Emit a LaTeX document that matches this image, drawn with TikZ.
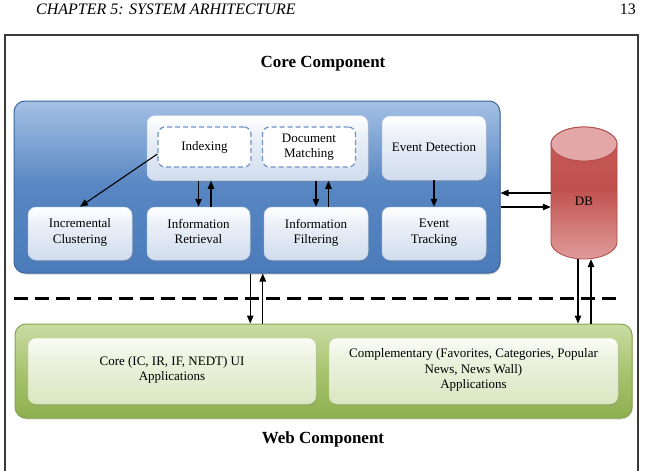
\documentclass[tikz,border=0pt]{standalone}
\usepackage{fontspec}
\setmainfont{Liberation Serif}
\usetikzlibrary{arrows.meta,shadows,calc}
\definecolor{bTop}{HTML}{A4C0E4}
\definecolor{bMid}{HTML}{5786C2}
\definecolor{bBot}{HTML}{4B7BBA}
\definecolor{bLine}{HTML}{3C679F}
\definecolor{wTop}{HTML}{FFFFFF}
\definecolor{wBot}{HTML}{D0DCED}
\definecolor{wLine}{HTML}{C3D3E8}
\definecolor{dashCol}{HTML}{6F93C6}
\definecolor{gTop}{HTML}{C9DCA5}
\definecolor{gMid}{HTML}{A8C46E}
\definecolor{gBot}{HTML}{8EAF4F}
\definecolor{gLine}{HTML}{85A648}
\definecolor{lgTop}{HTML}{FCFDF8}
\definecolor{lgBot}{HTML}{DAE6C2}
\definecolor{lgLine}{HTML}{C9D9AA}
\definecolor{rTop}{HTML}{C65C59}
\definecolor{rMid}{HTML}{C0504D}
\definecolor{rBot}{HTML}{DF9C9A}
\definecolor{rCap}{HTML}{E2A7A6}
\definecolor{rLine}{HTML}{B04744}
\definecolor{frameCol}{HTML}{3A3A3A}
\pgfdeclareverticalshading{blueshade}{100bp}{color(0bp)=(bBot); color(25bp)=(bBot); color(50bp)=(bMid); color(75bp)=(bTop); color(100bp)=(bTop)}
\pgfdeclareverticalshading{whiteshade}{100bp}{color(0bp)=(wBot); color(25bp)=(wBot); color(60bp)=(wTop!60!wBot); color(75bp)=(wTop); color(100bp)=(wTop)}
\pgfdeclareverticalshading{greenshade}{100bp}{color(0bp)=(gBot); color(25bp)=(gBot); color(50bp)=(gMid); color(75bp)=(gTop); color(100bp)=(gTop)}
\pgfdeclareverticalshading{lgreenshade}{100bp}{color(0bp)=(lgBot); color(25bp)=(lgBot); color(60bp)=(lgTop!55!lgBot); color(75bp)=(lgTop); color(100bp)=(lgTop)}
\pgfdeclareverticalshading{redshade}{100bp}{color(0bp)=(rBot); color(25bp)=(rBot); color(52bp)=(rMid); color(75bp)=(rTop); color(100bp)=(rTop)}
\begin{document}
\begin{tikzpicture}[x=1pt,y=-1pt,
  txt/.style={font=\fontsize{13}{15.5}\selectfont, align=center},
  title/.style={font=\bfseries\fontsize{17}{20}\selectfont},
  outerblue/.style={rounded corners=11pt, shading=blueshade, draw=bLine, line width=1pt, inner sep=0pt,
    drop shadow={shadow xshift=0.8pt, shadow yshift=-1.5pt, opacity=0.35}},
  outergreen/.style={rounded corners=11pt, shading=greenshade, draw=gLine, line width=1pt, inner sep=0pt,
    drop shadow={shadow xshift=0.8pt, shadow yshift=-1.5pt, opacity=0.3}},
  wbox/.style={txt, rounded corners=8pt, shading=whiteshade, draw=wLine, line width=0.5pt, inner sep=0pt,
    execute at begin node={\strut}, execute at end node={\strut},
    drop shadow={shadow xshift=0.8pt, shadow yshift=-1.6pt, opacity=0.3}},
  gbox/.style={txt, rounded corners=8pt, shading=lgreenshade, draw=lgLine, line width=0.5pt, inner sep=0pt,
    execute at begin node={\strut}, execute at end node={\strut},
    drop shadow={shadow xshift=0.8pt, shadow yshift=-1.6pt, opacity=0.3}},
  dbox/.style={txt, rounded corners=7pt, fill=white, draw=dashCol, line width=1.2pt,
    dash pattern=on 5pt off 3pt, inner sep=0pt, minimum width=93pt, minimum height=40pt},
  arr/.style={-{Triangle[length=8pt,width=6.5pt]}, line width=1.1pt, black},
  sepline/.style={line width=3pt, dash pattern=on 14pt off 7pt, black}
]
\useasboundingbox (0,0) rectangle (645,471);
\clip (0,0) rectangle (645,471);
\fill[white] (0,0) rectangle (645,471);

% page header
\node[anchor=base west, inner sep=0pt, font=\itshape\fontsize{16}{19}\selectfont] (hdr) at (36,14) {CHAPTER 5: SYSTEM ARHITECTURE};
\node[anchor=base east, inner sep=0pt, font=\fontsize{16}{19}\selectfont] (pg) at (636,14) {13};

% frame
\draw[frameCol, line width=1.3pt] (5,35) rectangle (638,490);

\node[title, anchor=base] (coret) at (323,67) {Core Component};
\node[title, anchor=base] (webt) at (323,443) {Web Component};

% core component
\node[outerblue, minimum width=486pt, minimum height=172pt] (blue) at (257,187) {};
\node[wbox, minimum width=221pt, minimum height=65pt, execute at begin node={}, execute at end node={}] (grp) at (257.5,148) {};
\node[dbox] (idx) at (204.5,147) {Indexing};
\node[dbox, font=\fontsize{13}{14.5}\selectfont] (dm) at (309,147) {Document\\Matching};
\node[wbox, minimum width=104pt, minimum height=64pt] (ed) at (434,148) {Event Detection};
\node[wbox, minimum width=104pt, minimum height=53pt] (ic) at (80,233.5) {Incremental\\Clustering};
\node[wbox, minimum width=103pt, minimum height=53pt] (ir) at (198.5,233.5) {Information\\Retrieval};
\node[wbox, minimum width=104pt, minimum height=53pt] (ifl) at (316,233.5) {Information\\Filtering};
\node[wbox, minimum width=104pt, minimum height=53pt] (et) at (434,233.5) {Event\\Tracking};

% DB cylinder
\node[minimum width=66pt, minimum height=132pt, inner sep=0pt] (db) at (584,193) {};
\shade[shading=redshade, draw=rLine, line width=0.8pt]
  (551,144) -- (551,242) arc[start angle=180, end angle=360, x radius=33pt, y radius=17pt]
  -- (617,144) arc[start angle=0, end angle=180, x radius=33pt, y radius=17pt] -- cycle;
\draw[fill=rCap, draw=rLine, line width=0.8pt] (584,144) ellipse [x radius=33pt, y radius=17pt];
\node[txt] (dbl) at (584,201) {DB};

% web component
\node[outergreen, minimum width=617pt, minimum height=94pt] (green) at (323.5,371) {};
\node[gbox, minimum width=288pt, minimum height=66pt] (core) at (172,371) {Core (IC, IR, IF, NEDT) UI\\Applications};
\node[gbox, minimum width=289pt, minimum height=66pt] (comp) at (473.5,371) {Complementary (Favorites, Categories, Popular\\News, News Wall)\\Applications};

% separator
\draw[sepline] (14,298) -- (620,298);

% connectors
\draw[arr] ([yshift=-7pt]idx.west) -- (ic.north);
\draw[arr] (grp.south -| ir.north) -- (ir.north);
\draw[arr] ([xshift=12.5pt]ir.north) -- ([xshift=12.5pt]ir.north |- grp.south);
\draw[arr] (grp.south -| ifl.north) -- (ifl.north);
\draw[arr] ([xshift=12.5pt]ifl.north) -- ([xshift=12.5pt]ifl.north |- grp.south);
\draw[arr] (ed.south) -- (et.north);
\draw[arr] (db.west) -- (db.west -| blue.east);
\draw[arr] ([yshift=-14pt]db.west -| blue.east) -- ([yshift=-14pt]db.west);
\draw[arr] (blue.south -| ir.east) -- (green.north -| ir.east);
\draw[arr] ([xshift=-1pt]green.north -| ifl.west) -- ([xshift=-1pt]blue.south -| ifl.west);
\draw[arr] ([xshift=-6pt]db.south) -- ([xshift=-6pt]db.south |- green.north);
\draw[arr] ([xshift=7pt]db.south |- green.north) -- ([xshift=7pt]db.south);
\end{tikzpicture}
\end{document}
